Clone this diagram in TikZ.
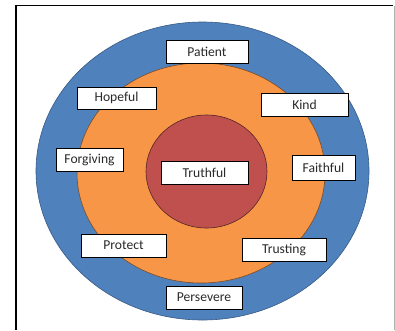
\documentclass[tikz,border=0pt]{standalone}
\usepackage{fontspec}
\setmainfont{Carlito}
\usepackage[dvipsnames]{xcolor}
\usetikzlibrary{shapes.geometric,shadows}
\definecolor{ringblue}{HTML}{4F81BD}
\definecolor{ringorange}{HTML}{F79646}
\definecolor{ringred}{HTML}{C0504D}
\definecolor{txtgray}{HTML}{2A2A2A}

\begin{document}
\begin{tikzpicture}[x=1pt,y=-1pt,
    word box/.style={rectangle, draw=black, fill=white, line width=0.6pt, inner sep=0pt,
        font=\fontsize{13.6}{15}\selectfont, text=txtgray,
        drop shadow={shadow xshift=0.8pt, shadow yshift=-0.8pt, fill=black!35, opacity=0.8}},
    ring/.style={line width=0.6pt}]

    \useasboundingbox (0,0) rectangle (395,330);
    % frame
    \draw[line width=1.6pt, black] (16,330) -- (16,5.5) -- (393,5.5);
    \draw[line width=0.8pt, black!30] (394,5.5) -- (394,330);

    % rings
    \node[ring, ellipse, draw=ringblue!70!black, fill=ringblue, minimum width=333, minimum height=298, inner sep=0pt] (outer) at (202.5,171) {};
    \node[ring, ellipse, draw=ringorange!50!black, fill=ringorange, minimum width=248, minimum height=220, inner sep=0pt] (middle) at (201,173) {};
    \node[ring, ellipse, draw=ringred!45!black, fill=ringred, minimum width=121, minimum height=113, inner sep=0pt] (inner) at (206.5,171.5) {};

    % words
    \node[word box, minimum width=87, minimum height=23] (truthful) at (204.5,172.5) {Truthful};
    \node[word box, minimum width=82, minimum height=23] (patient) at (207,51.5) {Patient};
    \node[word box, minimum width=79, minimum height=22] (hopeful) at (116.5,98) {Hopeful};
    \node[word box, minimum width=87, minimum height=23] (kind) at (304.5,104.5) {Kind};
    \node[word box, minimum width=67, minimum height=23] (forgiving) at (89.5,159.5) {Forgiving};
    \node[word box, minimum width=63, minimum height=25] (faithful) at (323.5,167.5) {Faithful};
    \node[word box, minimum width=85, minimum height=23] (protect) at (123.5,245.5) {Protect};
    \node[word box, minimum width=84, minimum height=23] (trusting) at (284,249.5) {Trusting};
    \node[word box, minimum width=76, minimum height=23] (persevere) at (204,297.5) {Persevere};
\end{tikzpicture}
\end{document}
